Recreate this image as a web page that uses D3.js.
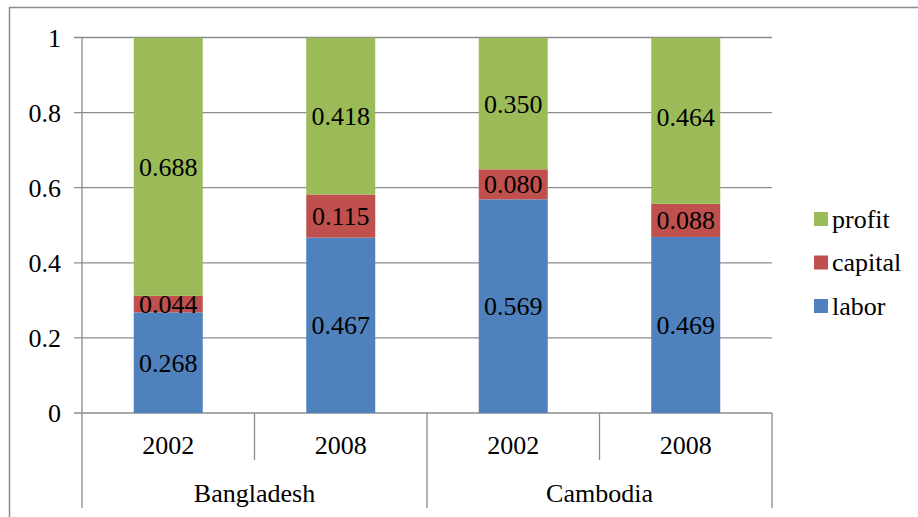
<!DOCTYPE html>
<html><head><meta charset="utf-8">
<script src="https://cdn.jsdelivr.net/npm/d3@7"></script>
<style>
body{margin:0;background:#fff;}
svg text{fill:#000;}
</style></head>
<body><svg id="c" width="918" height="517"></svg>
<script>
const countries = ["Bangladesh","Cambodia"];
const years = ["2002","2008"];
const categories = [["Bangladesh","2002"],["Bangladesh","2008"],["Cambodia","2002"],["Cambodia","2008"]];
const labor   = [0.268, 0.467, 0.569, 0.469];
const capital = [0.044, 0.115, 0.080, 0.088];
const profit  = [0.688, 0.418, 0.350, 0.464];
const seriesNames = ["labor","capital","profit"];
const seriesColors = ["#4F81BD","#C0504D","#9BBB59"];
const yTicks = [0,0.2,0.4,0.6,0.8,1];

const FF = "'Liberation Serif', 'DejaVu Serif', serif";
const svg = d3.select("#c");
const L=82, R=772, T=37.5, B=413;
const grid="#8c8c8c";

svg.append("path").attr("d","M9.5,520 V7.5 H920").attr("fill","none").attr("stroke","#8c8c8c").attr("stroke-width",1.5);

const x = d3.scaleBand().domain(d3.range(categories.length)).range([L,R]).paddingInner(0.6).paddingOuter(0.3);
const y = d3.scaleLinear().domain([0,1]).range([B,T]);

svg.append("g").selectAll("line").data(yTicks).join("line")
  .attr("x1",74).attr("x2",R).attr("y1",d=>y(d)).attr("y2",d=>y(d))
  .attr("stroke",grid).attr("stroke-width",1.3);

const yAxis = d3.axisLeft(y).tickValues(yTicks).tickSize(0).tickPadding(0).tickFormat(d=>String(d));
const ga = svg.append("g").attr("transform",`translate(${L},0)`).call(yAxis);
ga.attr("font-family",null).attr("font-size",null);
ga.select(".domain").remove();
ga.selectAll("text").attr("x",-21).attr("dy","0.33em").style("font-family",FF).style("font-size","26px");

const rows = categories.map((c,i)=>({i, labor:labor[i], capital:capital[i], profit:profit[i]}));
const stack = d3.stack().keys(seriesNames)(rows);
svg.append("clipPath").attr("id","pc").append("rect").attr("x",L).attr("y",T).attr("width",R-L).attr("height",B-T);
const bars = svg.append("g").attr("clip-path","url(#pc)");
stack.forEach((s,k)=>{
  bars.selectAll(null).data(s).join("rect")
    .attr("x",d=>x(d.data.i)).attr("width",x.bandwidth())
    .attr("y",d=>y(Math.min(1,d[1]))).attr("height",d=>y(d[0])-y(Math.min(1,d[1])))
    .attr("fill",seriesColors[k]);
});
svg.append("line").attr("x1",L).attr("x2",L).attr("y1",T).attr("y2",B).attr("stroke",grid).attr("stroke-width",1.3);

stack.forEach((s,k)=>{
  svg.selectAll(null).data(s).join("text")
    .attr("x",d=>x(d.data.i)+x.bandwidth()/2)
    .attr("y",d=>y((d[0]+d[1])/2))
    .attr("dy","0.35em").attr("text-anchor","middle")
    .style("font-family",FF).style("font-size","26px")
    .text(d=>(d[1]-d[0]).toFixed(3));
});

const step = (R-L)/categories.length;
const sep = svg.append("g");
d3.range(categories.length+1).forEach(i=>{
  const xx = L+i*step;
  const major = (i%2===0);
  sep.append("line").attr("x1",xx).attr("x2",xx).attr("y1",B).attr("y2",major?508:460)
    .attr("stroke",grid).attr("stroke-width",1.3);
});
svg.selectAll(null).data(categories).join("text")
  .attr("x",(d,i)=>L+step*(i+0.5)).attr("y",445).attr("dy","0.35em")
  .style("font-family",FF).style("font-size","26px")
  .attr("text-anchor","middle").text(d=>d[1]);
svg.selectAll(null).data(countries).join("text")
  .attr("x",(d,i)=>L+step*(2*i+1)).attr("y",493).attr("dy","0.35em")
  .style("font-family",FF).style("font-size","26px")
  .attr("text-anchor","middle").text(d=>d);

const legendOrder = [2,1,0];
const lg = svg.append("g");
legendOrder.forEach((k,j)=>{
  const cy = 219 + j*43.5;
  lg.append("rect").attr("x",814).attr("y",cy-7).attr("width",14).attr("height",14).attr("fill",seriesColors[k]);
  lg.append("text").attr("x",832).attr("y",cy).attr("dy","0.33em")
    .style("font-family",FF).style("font-size","26px").text(seriesNames[k]);
});
</script></body></html>
